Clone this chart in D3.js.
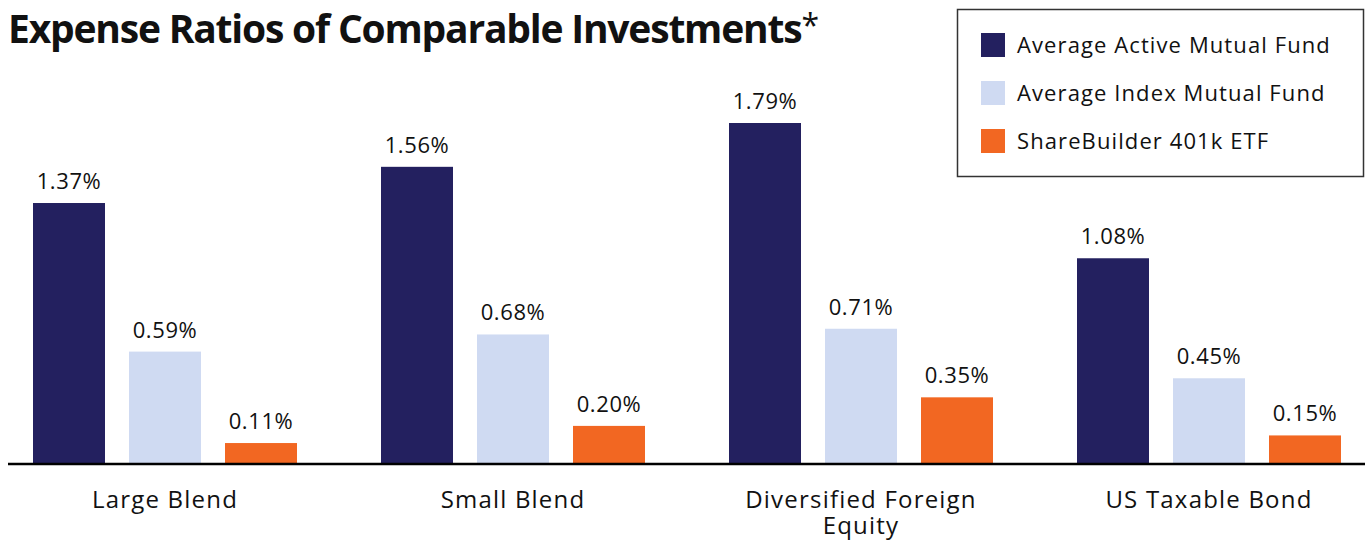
<!DOCTYPE html>
<html>
<head>
<meta charset="utf-8">
<script src="https://cdn.jsdelivr.net/npm/d3@7"></script>
<style>
  body { margin: 0; background: #fff; }
  text { font-family: "Open Sans", sans-serif; fill: #111; }
</style>
</head>
<body>
<script>
var categories = ["Large Blend", "Small Blend", "Diversified Foreign Equity", "US Taxable Bond"];
var seriesNames = ["Average Active Mutual Fund", "Average Index Mutual Fund", "ShareBuilder 401k ETF"];
var activeValues = [1.37, 1.56, 1.79, 1.08];
var indexValues = [0.59, 0.68, 0.71, 0.45];
var etfValues = [0.11, 0.20, 0.35, 0.15];
var colors = ["#23205f", "#cfdaf2", "#f26722"];

var svgWidth = 1365;
var svgHeight = 540;
var baseline = 464;

var allSeries = [activeValues, indexValues, etfValues];

var svg = d3.select("body")
  .append("svg")
  .attr("width", svgWidth)
  .attr("height", svgHeight);

// scales
var x0 = d3.scaleBand()
  .domain(categories)
  .range([-9, 1383])
  .paddingInner(84 / 348)
  .paddingOuter(42 / 348);

var x1 = d3.scaleBand()
  .domain(seriesNames)
  .range([0, x0.bandwidth()])
  .paddingInner(0.25)
  .paddingOuter(0);

var y = d3.scaleLinear()
  .domain([0, 2])
  .range([baseline, baseline - 381]);

// title
var title = svg.append("text")
  .attr("x", 8)
  .attr("y", 43)
  .style("font-size", "39px")
  .style("font-weight", "bold")
  .style("letter-spacing", "-1.2px");
title.append("tspan").text("Expense Ratios of Comparable Investments");
title.append("tspan")
  .attr("dy", -6)
  .style("font-weight", "normal")
  .style("font-size", "32px")
  .text("*");

// bars
var groups = svg.append("g")
  .selectAll("g")
  .data(categories)
  .enter()
  .append("g")
  .attr("transform", function (d) { return "translate(" + x0(d) + ",0)"; });

groups.selectAll("rect")
  .data(function (d, i) {
    return seriesNames.map(function (s, j) { return { s: s, v: allSeries[j][i], c: colors[j] }; });
  })
  .enter()
  .append("rect")
  .attr("x", function (d) { return x1(d.s); })
  .attr("y", function (d) { return y(d.v); })
  .attr("width", x1.bandwidth())
  .attr("height", function (d) { return baseline - y(d.v); })
  .attr("fill", function (d) { return d.c; });

groups.selectAll("text.val")
  .data(function (d, i) {
    return seriesNames.map(function (s, j) { return { s: s, v: allSeries[j][i] }; });
  })
  .enter()
  .append("text")
  .attr("class", "val")
  .attr("x", function (d) { return x1(d.s) + x1.bandwidth() / 2; })
  .attr("y", function (d) { return y(d.v) - 14; })
  .attr("text-anchor", "middle")
  .style("font-size", "22px")
  .style("letter-spacing", "0.6px")
  .text(function (d) { return d.v.toFixed(2) + "%"; });

// baseline
svg.append("line")
  .attr("x1", 8)
  .attr("x2", svgWidth)
  .attr("y1", baseline)
  .attr("y2", baseline)
  .attr("stroke", "#000")
  .attr("stroke-width", 2.5);

// category labels (wrapped)
var catLabels = svg.append("g")
  .selectAll("text")
  .data(categories)
  .enter()
  .append("text")
  .attr("x", function (d) { return x0(d) + x0.bandwidth() / 2; })
  .attr("y", 508)
  .attr("text-anchor", "middle")
  .style("font-size", "24px")
  .style("letter-spacing", "1.2px")
  .text(function (d) { return d; });

catLabels.each(function (d) {
  var t = d3.select(this);
  var words = d.split(" ");
  var line = [];
  var lines = [];
  t.text(null);
  var probe = t.append("tspan");
  words.forEach(function (w) {
    line.push(w);
    probe.text(line.join(" "));
    if (probe.node().getComputedTextLength() > x0.bandwidth() && line.length > 1) {
      line.pop();
      lines.push(line.join(" "));
      line = [w];
    }
  });
  lines.push(line.join(" "));
  probe.remove();
  lines.forEach(function (l, k) {
    t.append("tspan")
      .attr("x", t.attr("x"))
      .attr("dy", k === 0 ? 0 : 26)
      .text(l);
  });
});

// legend
var legend = svg.append("g");
legend.append("rect")
  .attr("x", 957.5)
  .attr("y", 9.5)
  .attr("width", 406)
  .attr("height", 167)
  .attr("fill", "#fff")
  .attr("stroke", "#333")
  .attr("stroke-width", 1.5);

var items = legend.selectAll("g")
  .data(seriesNames)
  .enter()
  .append("g")
  .attr("transform", function (d, i) { return "translate(981," + (33 + i * 48) + ")"; });

items.append("rect")
  .attr("width", 24)
  .attr("height", 24)
  .attr("fill", function (d, i) { return colors[i]; });

items.append("text")
  .attr("x", 36)
  .attr("y", 20)
  .style("font-size", "22px")
  .style("letter-spacing", "1.1px")
  .text(function (d) { return d; });
</script>
</body>
</html>
